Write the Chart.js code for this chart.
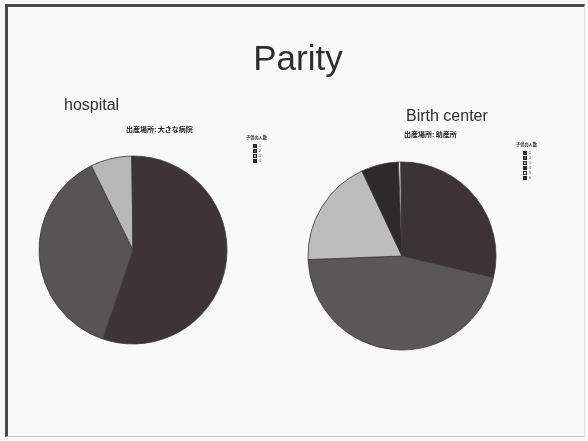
<!DOCTYPE html>
<html lang="ja">
<head>
<meta charset="utf-8">
<title>Parity</title>
<script src="https://cdn.jsdelivr.net/npm/chart.js@4/dist/chart.umd.min.js"></script>
<style>
  html, body { margin: 0; padding: 0; }
  body {
    width: 588px; height: 441px; overflow: hidden; position: relative;
    background: #f9f9f9;
    font-family: "Liberation Sans", Arial, sans-serif;
    filter: blur(0.4px);
  }
  .frame {
    position: absolute; left: 5px; top: 4px; width: 580px; height: 433px;
    border-top: 3px solid #4a4a4a; border-left: 3px solid #4a4a4a;
    border-right: 1px solid #dcdcdc; border-bottom: 1px solid #c4c4c4;
    box-sizing: border-box;
  }
  .abs { position: absolute; white-space: nowrap; color: #333; }
  .title { font-size: 35px; left: 0; width: 596px; text-align: center; top: 38px; color: #2e2e2e; }
  .group { font-size: 16px; color: #2e2e2e; }
  .sub {
    font-family: "Noto Sans CJK JP", sans-serif; font-weight: bold;
    font-size: 7px; color: #222;
  }
  .legend { font-family: "Noto Sans CJK JP", sans-serif; color: #333; }
  .legend .head { font-size: 4.2px; font-weight: bold; line-height: 7px; margin-bottom: 2px; }
  .legend .item { font-size: 3.5px; line-height: 5px; height: 5px; padding-left: 7px; }
  .legend .sw {
    display: inline-block; width: 2.4px; height: 2.4px; margin-right: 1.5px;
    vertical-align: middle; border: 0.6px solid #222;
  }
  canvas { position: absolute; }
</style>
</head>
<body>
<div class="frame"></div>

<div class="abs title">Parity</div>
<div class="abs group" style="left:64px; top:96px;">hospital</div>
<div class="abs group" style="left:406px; top:107px;">Birth center</div>

<div class="abs sub" style="left:126px; top:124px;">出産場所: 大きな病院</div>
<div class="abs sub" style="left:404px; top:129px;">出産場所: 助産所</div>

<div class="abs legend" id="legendHospital" style="left:246px; top:134px;"></div>
<div class="abs legend" id="legendBirth" style="left:516px; top:141px;"></div>

<canvas id="pieHospital" width="200" height="200" style="left:33px; top:150px;"></canvas>
<canvas id="pieBirth" width="200" height="200" style="left:302px; top:156px;"></canvas>

<script>
// 子供の人数 (number of children) – legend header
const legendTitle = '子供の人数';

// 出産場所: 大きな病院
const hospitalLabels = ['1', '2', '3', '4'];
const hospitalValues = [55.2, 37.5, 7.1, 0.2];
const hospitalColors = ['#3c3437', '#585455', '#b7b7b7', '#2f2b2c'];

// 出産場所: 助産所
const birthLabels = ['1', '2', '3', '4', '5', '6'];
const birthValues = [28.7, 45.7, 18.6, 6.4, 0.4, 0.2];
const birthColors = ['#3b3335', '#5b5758', '#bdbdbd', '#2e2a2b', '#f2f2f2', '#3a3436'];

// Legend markup, built from the labels/colours
function renderLegend(id, labels, colors) {
  const el = document.getElementById(id);
  let html = `<div class="head">${legendTitle}</div>`;
  labels.forEach((label, i) => {
    html += `<div class="item"><span class="sw" style="background:${colors[i]}"></span>${label}</div>`;
  });
  el.innerHTML = html;
}

function renderPie(id, labels, values, colors) {
  const ctx = document.getElementById(id).getContext('2d');
  return new Chart(ctx, {
    type: 'pie',
    data: {
      labels: labels,
      datasets: [{
        data: values,
        backgroundColor: colors,
        borderColor: '#3a3a3a',
        borderWidth: 0.8
      }]
    },
    options: {
      responsive: false,
      animation: false,
      radius: 94,
      layout: { padding: 0 },
      plugins: {
        legend: { display: false },
        tooltip: { enabled: false },
        title: { display: false }
      }
    }
  });
}

renderLegend('legendHospital', hospitalLabels, hospitalColors);
renderLegend('legendBirth', birthLabels, birthColors);
renderPie('pieHospital', hospitalLabels, hospitalValues, hospitalColors);
renderPie('pieBirth', birthLabels, birthValues, birthColors);
</script>
</body>
</html>
